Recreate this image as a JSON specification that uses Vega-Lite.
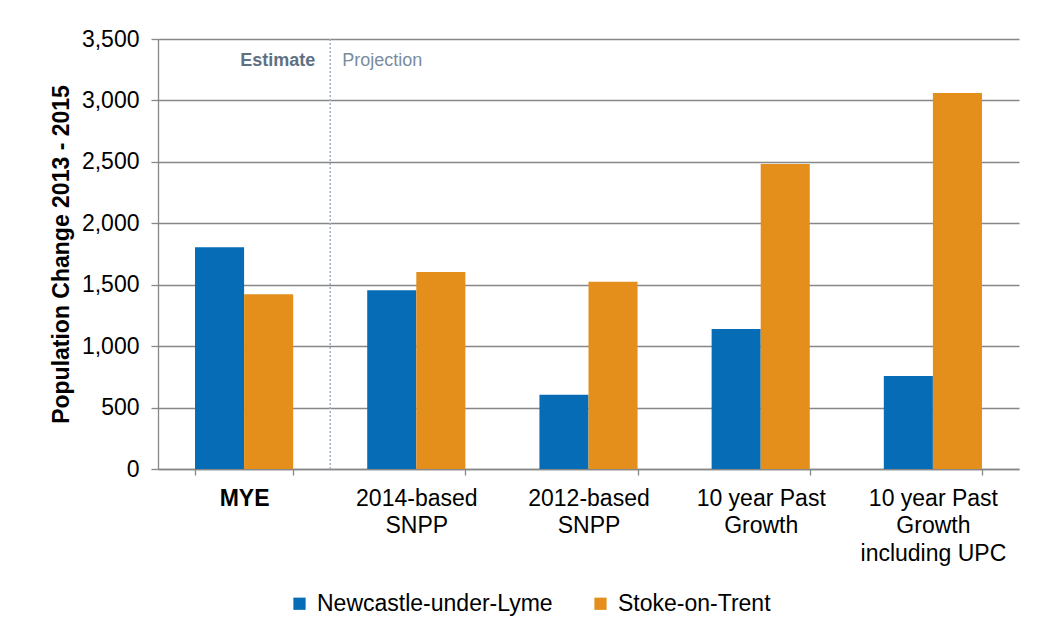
{
  "$schema": "https://vega.github.io/schema/vega-lite/v6.json",
  "width": 861,
  "height": 430,
  "autosize": {"type": "none"},
  "padding": {"left": 158, "top": 39, "right": 22, "bottom": 166},
  "background": "white",
  "config": {
    "font": "Liberation Sans",
    "view": {"stroke": null},
    "axis": {"gridColor": "#878787", "gridWidth": 1.3, "domainColor": "#878787", "domainWidth": 1.3, "tickColor": "#878787", "tickWidth": 1.3, "labelColor": "#000000", "titleColor": "#000000", "labelFont": "Liberation Sans", "titleFont": "Liberation Sans"}
  },
  "datasets": {
    "bars": [
      {"scenario": "MYE", "area": "Newcastle-under-Lyme", "change": 1804},
      {"scenario": "MYE", "area": "Stoke-on-Trent", "change": 1422},
      {"scenario": "2014-based SNPP", "area": "Newcastle-under-Lyme", "change": 1455},
      {"scenario": "2014-based SNPP", "area": "Stoke-on-Trent", "change": 1604},
      {"scenario": "2012-based SNPP", "area": "Newcastle-under-Lyme", "change": 605},
      {"scenario": "2012-based SNPP", "area": "Stoke-on-Trent", "change": 1525},
      {"scenario": "10 year Past Growth", "area": "Newcastle-under-Lyme", "change": 1140},
      {"scenario": "10 year Past Growth", "area": "Stoke-on-Trent", "change": 2483},
      {"scenario": "10 year Past Growth including UPC", "area": "Newcastle-under-Lyme", "change": 757},
      {"scenario": "10 year Past Growth including UPC", "area": "Stoke-on-Trent", "change": 3061}
    ],
    "divider": [
      {"boundary": 1, "left": "Estimate", "right": "Projection"}
    ]
  },
  "layer": [
    {
      "data": {"name": "bars"},
      "mark": {"type": "bar"},
      "encoding": {
        "x": {
          "field": "scenario",
          "type": "nominal",
          "sort": null,
          "scale": {"paddingInner": 0.43, "paddingOuter": 0.215},
          "axis": {
            "title": null,
            "labelAngle": 0,
            "labelFontSize": 23,
            "labelLineHeight": 27.5,
            "labelPadding": 12,
            "tickSize": 6,
            "tickBand": "extent",
            "grid": false,
            "labelFontWeight": {"condition": {"test": "datum.value === 'MYE'", "value": "bold"}, "value": "normal"},
            "labelExpr": "datum.value === '2014-based SNPP' ? ['2014-based', 'SNPP'] : datum.value === '2012-based SNPP' ? ['2012-based', 'SNPP'] : datum.value === '10 year Past Growth' ? ['10 year Past', 'Growth'] : datum.value === '10 year Past Growth including UPC' ? ['10 year Past', 'Growth', 'including UPC'] : datum.value"
          }
        },
        "xOffset": {"field": "area", "type": "nominal", "scale": {"paddingInner": 0, "paddingOuter": 0}},
        "y": {
          "field": "change",
          "type": "quantitative",
          "scale": {"domain": [0, 3500], "nice": false},
          "axis": {
            "title": "Population Change 2013 - 2015",
            "titleFontSize": 23,
            "titleFontWeight": "bold",
            "titlePadding": 8,
            "values": [0, 500, 1000, 1500, 2000, 2500, 3000, 3500],
            "format": ",d",
            "labelFontSize": 23,
            "labelPadding": 12,
            "tickSize": 7,
            "grid": true
          }
        },
        "color": {
          "field": "area",
          "type": "nominal",
          "scale": {"domain": ["Newcastle-under-Lyme", "Stoke-on-Trent"], "range": ["#066CB5", "#E48F1B"]},
          "legend": {
            "title": null,
            "orient": "none",
            "legendX": 130,
            "legendY": 553,
            "direction": "horizontal",
            "symbolType": "square",
            "symbolSize": 150,
            "symbolStrokeWidth": 0,
            "labelFontSize": 23,
            "labelColor": "#000000",
            "labelFont": "Liberation Sans",
            "labelLimit": 0,
            "labelOffset": 6,
            "columnPadding": 36
          }
        }
      }
    },
    {
      "data": {"name": "divider"},
      "layer": [
        {
          "mark": {"type": "rule", "color": "#9DB0C2", "strokeWidth": 1.5, "strokeDash": [2, 2]},
          "encoding": {
            "x": {"field": "boundary", "type": "quantitative", "scale": {"domain": [0, 5], "nice": false, "zero": true}, "axis": null}
          }
        },
        {
          "mark": {"type": "text", "align": "right", "baseline": "middle", "dx": -15, "fontSize": 18, "fontWeight": "bold", "color": "#5E7182", "font": "Liberation Sans"},
          "encoding": {
            "x": {"field": "boundary", "type": "quantitative", "scale": {"domain": [0, 5], "nice": false, "zero": true}, "axis": null},
            "y": {"datum": 3320, "type": "quantitative"},
            "text": {"field": "left"}
          }
        },
        {
          "mark": {"type": "text", "align": "left", "baseline": "middle", "dx": 12, "fontSize": 18, "color": "#7A8C9D", "font": "Liberation Sans"},
          "encoding": {
            "x": {"field": "boundary", "type": "quantitative", "scale": {"domain": [0, 5], "nice": false, "zero": true}, "axis": null},
            "y": {"datum": 3320, "type": "quantitative"},
            "text": {"field": "right"}
          }
        }
      ]
    }
  ],
  "resolve": {"scale": {"x": "independent"}, "axis": {"x": "independent"}}
}
